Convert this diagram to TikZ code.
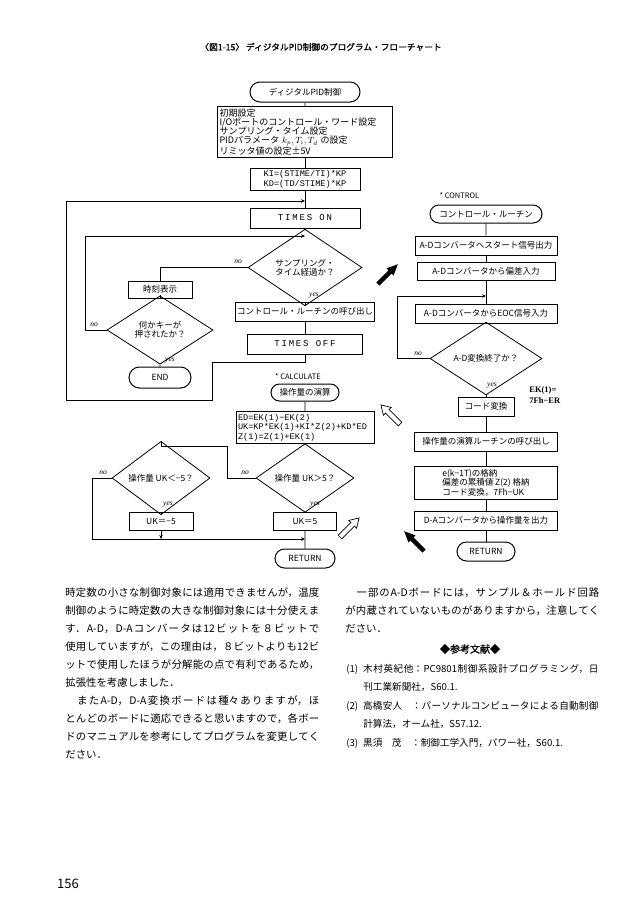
\documentclass[tikz,border=0pt]{standalone}
\usepackage{fontspec}
\setmainfont{Noto Sans CJK JP}
\newfontfamily\heavyfont[FakeBold=1.2]{Noto Sans CJK JP}
\newfontfamily\monofont{Liberation Mono}
\newfontfamily\spacedfont[LetterSpace=20]{Liberation Mono}
\newfontfamily\labfont{Liberation Serif}
\usetikzlibrary{shapes.geometric}
\usetikzlibrary{shapes.misc}
\usetikzlibrary{arrows.meta}
\XeTeXlinebreaklocale "ja"
\XeTeXlinebreakskip=0pt plus 2pt
\newcommand{\fcfont}{\fontsize{8.5}{9.4}\selectfont}
\newcommand{\codefont}{\monofont\fontsize{8.6}{9.6}\selectfont}
\newcommand{\bodyfont}{\fontsize{10.4}{18}\selectfont}
\tikzset{
  blackarrow/.pic={\fill (0,-2.2) -- (17,-2.2) -- (17,-5) -- (28,0) -- (17,5) -- (17,2.2) -- (0,2.2) -- cycle;},
  hollowarrow/.pic={\draw[line width=0.7pt, fill=white] (0,-2.5) -- (18,-2.5) -- (18,-5.5) -- (27,0) -- (18,5.5) -- (18,2.5) -- (0,2.5) -- cycle;}
}
\begin{document}
\begin{tikzpicture}[x=1pt, y=-1pt, line width=0.7pt,
    fcbox/.style={draw, line width=1pt, inner sep=1.5pt, font=\fcfont, align=center},
    termbox/.style={draw, rounded rectangle, line width=1pt, inner sep=1pt, font=\fcfont},
    decide/.style={draw, diamond, line width=0.8pt, inner sep=0pt, font=\fcfont, align=center},
    lab/.style={font={\labfont\itshape\fontsize{7.5}{8}\selectfont}, inner sep=0.5pt},
    merge/.style={-{Stealth[length=4pt,width=3.5pt]}},
    bodytext/.style={text width=254pt, inner sep=0pt, align=justify, font=\bodyfont, anchor=base west},
    reftext/.style={text width=252pt, inner sep=0pt, align=justify, font={\fontsize{9.6}{18}\selectfont}, anchor=base west},
    refmore/.style={inner sep=0pt, font={\fontsize{9.6}{18}\selectfont}, anchor=base west}]
    % Page
    \useasboundingbox (0,0) rectangle (640,919);

    % Title
    \node (title) at (321,47) {\heavyfont\fontsize{8.7}{10}\selectfont 〈図1-15〉\ ディジタルPID制御のプログラム・フローチャート};

    % Main routine
    \node[termbox, minimum width=112pt, minimum height=20pt] (start) at (305,92) {ディジタルPID制御};
    \node[fcbox, align=left, text width=171pt, minimum height=48pt, inner sep=2pt, font={\fontsize{9}{9.3}\selectfont}] (init) at (305,132)
        {初期設定\\I/Oポートのコントロール・ワード設定\\サンプリング・タイム設定\\PIDパラメータ $k_p, T_i, T_d$ の設定\\リミッタ値の設定±5V};
    \node[fcbox, font=\codefont, minimum width=110pt, minimum height=22pt] (kbox) at (305,179) {KI=(STIME/TI)*KP\\KD=(TD/STIME)*KP};
    \node[fcbox, font={\spacedfont\fontsize{9}{10}\selectfont}, minimum width=110pt, minimum height=20pt] (timeson) at (305,218) {TIMES ON};
    \node[decide, minimum width=114pt, minimum height=45pt] (samp) at (305,267.5) {サンプリング・\\タイム経過か？};
    \node[fcbox, minimum width=138pt, minimum height=19pt] (ctrlcall) at (305,311.5) {コントロール・ルーチンの呼び出し};
    \node[fcbox, font={\spacedfont\fontsize{9}{10}\selectfont}, minimum width=115pt, minimum height=20pt] (timesoff) at (305,344) {TIMES OFF};
    \node[fcbox, minimum width=64pt, minimum height=17pt] (disp) at (160,289.5) {時刻表示};
    \node[decide, minimum width=106pt, minimum height=46pt] (key) at (160,330) {何かキーが\\押されたか？};
    \node[termbox, minimum width=64pt, minimum height=21pt] (end) at (160,377.5) {END};

    \coordinate (j1) at (305,201);
    \coordinate (j2) at (305,236);
    \coordinate (keyloop) at (85,236);
    \coordinate (offa) at (212,362);
    \coordinate (offb) at (66,400);
    \draw (start) -- (init);
    \draw (init) -- (kbox);
    \draw (kbox) -- (timeson);
    \draw (timeson) -- (samp);
    \draw (samp) -- (ctrlcall);
    \draw (ctrlcall) -- (timesoff);
    \draw (samp.west) -| (disp.north);
    \draw (disp) -- (key);
    \draw (key) -- (end);
    \draw[merge] (key.west) -| (keyloop) -- (j2);
    \draw[merge] (timesoff.south) |- (offa) |- (offb) |- (j1);
    \node[lab] (sampno) at (238,262) {no};
    \node[lab] (sampyes) at (314,296) {yes};
    \node[lab] (keyno) at (94,325) {no};
    \node[lab] (keyyes) at (170,361) {yes};

    % Calculate routine
    \node[font={\fontsize{7.5}{8}\selectfont}] (calclabel) at (298,377) {* CALCULATE};
    \node[termbox, minimum width=70pt, minimum height=17pt] (calc) at (305,392.5) {操作量の演算};
    \node[fcbox, font=\codefont, align=left, text width=134pt, inner sep=2pt, minimum height=31pt] (edbox) at (305,427.5)
        {ED=EK(1)−EK(2)\\UK=KP*EK(1)+KI*Z(2)+KD*ED\\Z(1)=Z(1)+EK(1)};
    \node[decide, minimum width=98pt, minimum height=40pt] (ukgt) at (305,478) {操作量 UK＞5？};
    \node[decide, minimum width=98pt, minimum height=40pt] (uklt) at (161,478) {操作量 UK＜−5？};
    \node[fcbox, minimum width=64pt, minimum height=18pt] (ukneg) at (161,521) {UK＝−5};
    \node[fcbox, minimum width=63pt, minimum height=18pt] (ukfive) at (305,521) {UK＝5};
    \node[termbox, minimum width=62pt, minimum height=19pt] (ret1) at (305,558.5) {RETURN};

    \coordinate (j4) at (305,539);
    \coordinate (gtloop) at (227,446);
    \coordinate (ltloop) at (92,539);
    \draw (calc) -- (edbox);
    \draw (edbox) -- (ukgt);
    \draw (ukgt) -- (ukfive);
    \draw (ukfive) -- (ret1);
    \draw (ukgt.west) -| (gtloop) -| (uklt.north);
    \draw (uklt) -- (ukneg);
    \draw[merge] (uklt.west) -| (ltloop) -- (j4);
    \draw[merge] (ukneg.south) -- (ukneg.south |- j4);
    \node[lab] (gtno) at (245,473) {no};
    \node[lab] (gtyes) at (315,505) {yes};
    \node[lab] (ltno) at (103,473) {no};
    \node[lab] (ltyes) at (168,505) {yes};

    % Control routine
    \node[anchor=west, font={\fontsize{7.5}{8}\selectfont}] (ctrllabel) at (436,196) {* CONTROL};
    \node[termbox, minimum width=114pt, minimum height=18pt] (ctrl) at (486,214) {コントロール・ルーチン};
    \node[fcbox, minimum width=142pt, minimum height=19pt] (adstart) at (486,245.5) {A-Dコンバータへスタート信号出力};
    \node[fcbox, minimum width=138pt, minimum height=18pt] (addev) at (486,271) {A-Dコンバータから偏差入力};
    \node[fcbox, minimum width=142pt, minimum height=19pt] (adeoc) at (486,313.5) {A-DコンバータからEOC信号入力};
    \node[decide, minimum width=112pt, minimum height=45pt] (addone) at (486,358.5) {A-D変換終了か？};
    \node[fcbox, minimum width=56pt, minimum height=19pt] (code) at (486,406.5) {コード変換};
    \node[fcbox, minimum width=143pt, minimum height=19pt] (callcalc) at (486,441.5) {操作量の演算ルーチンの呼び出し};
    \node[fcbox, align=left, minimum width=143pt, minimum height=33pt] (store) at (486,482.5) {e(k−1T)の格納\\偏差の累積値 Z(2) 格納\\コード変換，7Fh−UK};
    \node[fcbox, minimum width=143pt, minimum height=19pt] (daout) at (486,520.5) {D-Aコンバータから操作量を出力};
    \node[termbox, minimum width=60pt, minimum height=19pt] (ret2) at (486,551.5) {RETURN};
    \node[anchor=west, align=left, inner sep=0pt, font={\labfont\bfseries\fontsize{8.5}{11}\selectfont}] (eklabel) at (529,395.5) {EK(1)=\\7Fh−ER};

    \coordinate (j5) at (486,296);
    \coordinate (adloop) at (397,296);
    \draw (ctrl) -- (adstart);
    \draw (adstart) -- (addev);
    \draw (addev) -- (adeoc);
    \draw (adeoc) -- (addone);
    \draw (addone) -- (code);
    \draw (code) -- (callcalc);
    \draw (callcalc) -- (store);
    \draw (store) -- (daout);
    \draw (daout) -- (ret2);
    \draw[merge] (addone.west) -| (adloop) -- (j5);
    \node[lab] (adno) at (418,354) {no};
    \node[lab] (adyes) at (492,386) {yes};

    % Call and return arrows
    \pic[rotate=45] at (378,284) {blackarrow};
    \pic[rotate=135] at (424,551) {blackarrow};
    \pic[rotate=135] at (400,424) {hollowarrow};
    \pic[rotate=45] at (340,537) {hollowarrow};

    % Body text
    \node[bodytext] (leftcol) at (65,596) {時定数の小さな制御対象には適用できませんが，温度\linebreak
        制御のように時定数の大きな制御対象には十分使えま\linebreak
        す．A-D，D-Aコンバータは12ビットを８ビットで\linebreak
        使用していますが，この理由は，８ビットよりも12ビ\linebreak
        ットで使用したほうが分解能の点で有利であるため，\linebreak
        拡張性を考慮しました．\par
        　またA-D，D-A変換ボードは種々ありますが，ほ\linebreak
        とんどのボードに適応できると思いますので，各ボー\linebreak
        ドのマニュアルを参考にしてプログラムを変更してく\linebreak
        ださい．};
    \node[bodytext] (rightcol) at (345,596) {　一部のA-Dボードには，サンプル＆ホールド回路\linebreak
        が内蔵されていないものがありますから，注意してく\linebreak
        ださい．};

    % References
    \node[font={\heavyfont\fontsize{10}{12}\selectfont}] (refhead) at (470,649) {◆参考文献◆};
    \node[reftext] (ref1) at (346,672) {(1)\hspace{5pt}木村英紀他：PC9801制御系設計プログラミング，日\linebreak};
    \node[refmore] (ref1b) at (363,690) {刊工業新聞社，S60.1.};
    \node[reftext] (ref2) at (346,709) {(2)\hspace{5pt}高橋安人　：パーソナルコンピュータによる自動制御\linebreak};
    \node[refmore] (ref2b) at (363,727) {計算法，オーム社，S57.12.};
    \node[refmore] (ref3) at (346,746) {(3)\hspace{5pt}黒須　茂　：制御工学入門，パワー社，S60.1.};

    % Page number
    \node[font={\fontsize{13}{13}\selectfont}] (pagenum) at (68,884) {156};
\end{tikzpicture}
\end{document}
